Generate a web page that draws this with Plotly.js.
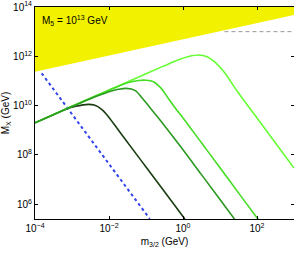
<!DOCTYPE html>
<html><head><meta charset="utf-8">
<script src="https://cdn.plot.ly/plotly-3.0.1.min.js"></script>
<style>html,body{margin:0;padding:0;background:#fff}#chart{width:294px;height:253px}</style>
</head><body><div id="chart"></div>
<script>
// values, as log10 exponents
const darkLogM32  = [-4, -3.5, -3.2, -2.9, -2.7, -2.55, -2.4, -2.2, -2.0, -1.709, -1.0, 0.0, 0.05];
const darkLogMX   = [9.30, 9.63, 9.83, 9.97, 10.03, 10.05, 10.02, 9.85, 9.52, 8.93, 7.51, 5.50, 5.40];
const medLogM32   = [-4, -3, -2.5, -2.0, -1.75, -1.53, -1.3, -1.1, -0.9, -0.6, -0.092, 0.5, 1.0, 1.44];
const medLogMX    = [9.30, 9.96, 10.28, 10.56, 10.66, 10.70, 10.62, 10.30, 9.93, 9.38, 8.39, 7.20, 6.19, 5.30];
const lightLogM32 = [-4, -3, -2, -1.5, -1.2, -1.0, -0.8, -0.6, -0.4, -0.2, 0.0, 0.5, 1.0, 1.5, 2.0, 2.05];
const lightLogMX  = [9.30, 9.97, 10.62, 10.93, 11.02, 11.03, 10.97, 10.72, 10.30, 9.88, 9.50, 8.49, 7.48, 6.46, 5.45, 5.35];
const lgtstLogM32 = [-4, -3, -2, -1, -0.5, -0.1, 0.15, 0.42, 0.65, 0.85, 1.1, 1.5, 2.0, 2.5, 3.0];
const lgtstLogMX  = [9.30, 9.97, 10.63, 11.29, 11.62, 11.87, 11.99, 12.05, 11.98, 11.78, 11.38, 10.51, 9.50, 8.48, 7.47];
const blueLogM32  = [-3.82, -0.90];
const blueLogMX   = [11.31, 5.41];
const greyLogM32  = [1.12, 3.0];
const greyLogMX   = [13.0, 13.0];
const yellowLogM32 = [-4, 3, 3, -4];
const yellowLogMX  = [11.37, 13.68, 14, 14];
const xTickVals = [1e-4, 1e-2, 1, 1e2];
const xTickText = ['10<sup>−4</sup>', '10<sup>−2</sup>', '10<sup>0</sup>', '10<sup>2</sup>'];
const yTickVals = [1e6, 1e8, 1e10, 1e12, 1e14];
const yTickText = ['10<sup>6</sup>', '10<sup>8</sup>', '10<sup>10</sup>', '10<sup>12</sup>', '10<sup>14</sup>'];

const p = a => a.map(v => Math.pow(10, v));
const traces = [
  {x: p(yellowLogM32), y: p(yellowLogMX), mode: 'lines', fill: 'toself', fillcolor: '#f2f200', line: {width: 0, color: '#f2f200'}},
  {x: p(greyLogM32), y: p(greyLogMX), mode: 'lines', line: {color: '#999999', width: 1, dash: '4px,3px'}},
  {x: p(blueLogM32), y: p(blueLogMX), mode: 'lines', line: {color: '#3344ee', width: 2, dash: '3px,3px'}},
  {x: p(darkLogM32), y: p(darkLogMX), mode: 'lines', line: {color: '#1a3d12', width: 1.6, shape: 'spline'}},
  {x: p(lgtstLogM32), y: p(lgtstLogMX), mode: 'lines', line: {color: '#66ff33', width: 1.6, shape: 'spline'}},
  {x: p(lightLogM32), y: p(lightLogMX), mode: 'lines', line: {color: '#44dd22', width: 1.6, shape: 'spline'}},
  {x: p(medLogM32), y: p(medLogMX), mode: 'lines', line: {color: '#2a9a20', width: 1.6, shape: 'spline'}}
];
const axisCommon = {showgrid: false, zeroline: false, showline: true, linecolor: '#000', linewidth: 1,
  mirror: 'ticks', ticks: 'inside', ticklen: 3, tickcolor: '#000', tickfont: {size: 10, color: '#000'}};
const layout = {
  width: 294, height: 253, showlegend: false,
  margin: {l: 35, r: 0, t: 7, b: 34},
  paper_bgcolor: '#fff', plot_bgcolor: '#fff',
  font: {family: 'Liberation Sans, Arial, sans-serif', size: 10, color: '#000'},
  xaxis: Object.assign({}, axisCommon, {type: 'log', range: [-4, 3], tickvals: xTickVals, ticktext: xTickText,
    title: {text: 'm<sub>3/2</sub> (GeV)', font: {size: 10}, standoff: 4}}),
  yaxis: Object.assign({}, axisCommon, {type: 'log', range: [5.40, 14], tickvals: yTickVals, ticktext: yTickText,
    title: {text: 'M<sub>X</sub> (GeV)', font: {size: 10}, standoff: 2}}),
  annotations: [{xref: 'paper', yref: 'paper', x: 0.02, y: 0.935, xanchor: 'left', yanchor: 'middle',
    text: 'M<sub>5</sub> = 10<sup>13</sup> GeV', showarrow: false, font: {size: 10, color: '#000'}}]
};
Plotly.newPlot('chart', traces, layout, {displayModeBar: false, staticPlot: true});
</script></body></html>
